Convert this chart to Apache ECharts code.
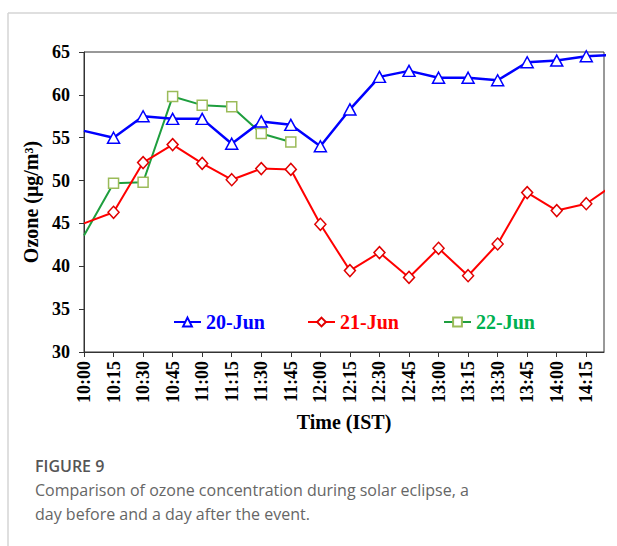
<!DOCTYPE html>
<html>
<head>
<meta charset="utf-8">
<script src="https://cdn.jsdelivr.net/npm/echarts@6/dist/echarts.min.js"></script>
<style>
html,body{margin:0;padding:0;background:#fff;}
#chart{width:617px;height:546px;}
</style>
</head>
<body>
<div id="chart"></div>
<script>
// Time categories (IST); the final one lies just past the visible axis end
const times = ['10:00','10:15','10:30','10:45','11:00','11:15','11:30','11:45','12:00','12:15','12:30','12:45','13:00','13:15','13:30','13:45','14:00','14:15','14:30'];
const tickLabels = ['10:00','10:15','10:30','10:45','11:00','11:15','11:30','11:45','12:00','12:15','12:30','12:45','13:00','13:15','13:30','13:45','14:00','14:15'];
const ozone20Jun = [55.8, 55.0, 57.5, 57.2, 57.2, 54.3, 56.9, 56.5, 54.0, 58.3, 62.1, 62.8, 62.0, 62.0, 61.7, 63.8, 64.0, 64.5, 64.7];
const ozone21Jun = [45.0, 46.3, 52.1, 54.2, 52.0, 50.1, 51.4, 51.3, 44.9, 39.5, 41.6, 38.7, 42.1, 38.9, 42.6, 48.6, 46.5, 47.3, 49.7];
const ozone22Jun = [43.6, 49.7, 49.8, 59.8, 58.8, 58.6, 55.5, 54.5];
const yTicks = [30, 35, 40, 45, 50, 55, 60, 65];
const seriesNames = ['20-Jun', '21-Jun', '22-Jun'];

function toMin(t) { const p = t.split(':'); return (+p[0] - 10) * 60 + (+p[1]); }
function fmt(m) { const h = 10 + Math.floor(m / 60); const mm = m % 60; return h + ':' + (mm < 10 ? '0' + mm : mm); }
function build(vals) {
  return vals.map((v, i) => i === 0 ? { value: [toMin(times[i]), v], symbol: 'none' } : [toMin(times[i]), v]);
}
const tickMins = tickLabels.map(toMin);
const serif = "'Liberation Serif','Times New Roman',serif";

const chart = echarts.init(document.getElementById('chart'), null, { renderer: 'svg' });
const legendBase = { orient: 'horizontal', top: 312, padding: 0, itemWidth: 27, itemHeight: 11, itemGap: 2 };
chart.setOption({
  animation: false,
  backgroundColor: '#fff',
  grid: { left: 84, right: 13, top: 52, bottom: 194, show: true, borderColor: '#333', borderWidth: 1, backgroundColor: 'transparent' },
  xAxis: {
    type: 'value', min: 0, max: 264,
    name: 'Time (IST)', nameLocation: 'middle', nameGap: 60,
    nameTextStyle: { fontFamily: serif, fontWeight: 'bold', fontSize: 20, color: '#000' },
    axisLine: { show: true, lineStyle: { color: '#333', width: 1 } },
    axisTick: { show: true, length: 5, lineStyle: { color: '#333' }, customValues: tickMins },
    axisLabel: { rotate: 90, fontFamily: serif, fontWeight: 'bold', fontSize: 18, color: '#000', margin: 9, customValues: tickMins, formatter: v => fmt(v) },
    splitLine: { show: false }
  },
  yAxis: {
    type: 'value', min: yTicks[0], max: yTicks[yTicks.length - 1], interval: 5,
    name: 'Ozone (μg/m³)', nameLocation: 'middle', nameGap: 35,
    nameTextStyle: { fontFamily: serif, fontWeight: 'bold', fontSize: 20, color: '#000' },
    axisLine: { show: true, lineStyle: { color: '#333', width: 1 } },
    axisTick: { show: true, length: 5, lineStyle: { color: '#333' } },
    axisLabel: { fontFamily: serif, fontWeight: 'bold', fontSize: 18, color: '#000', margin: 14 },
    splitLine: { show: false }
  },
  legend: [
    Object.assign({}, legendBase, { left: 173, data: [seriesNames[0]], textStyle: { fontFamily: serif, fontWeight: 'bold', fontSize: 20, color: '#0000ff' } }),
    Object.assign({}, legendBase, { left: 307, data: [seriesNames[1]], textStyle: { fontFamily: serif, fontWeight: 'bold', fontSize: 20, color: '#ff0000' } }),
    Object.assign({}, legendBase, { left: 443, data: [seriesNames[2]], textStyle: { fontFamily: serif, fontWeight: 'bold', fontSize: 20, color: '#00b050' } })
  ],
  series: [
    { name: seriesNames[2], type: 'line', data: build(ozone22Jun), symbol: 'rect', symbolSize: 10,
      lineStyle: { color: '#1e9e3e', width: 2 }, itemStyle: { color: '#fff', borderColor: '#9bbb59', borderWidth: 1.5 }, z: 2 },
    { name: seriesNames[1], type: 'line', data: build(ozone21Jun), symbol: 'diamond', symbolSize: [11, 12],
      lineStyle: { color: '#ff0000', width: 2 }, itemStyle: { color: '#fff', borderColor: '#e00000', borderWidth: 1.5 }, z: 3 },
    { name: seriesNames[0], type: 'line', data: build(ozone20Jun), symbol: 'triangle', symbolSize: [12, 11],
      lineStyle: { color: '#0000ff', width: 2.5 }, itemStyle: { color: '#fff', borderColor: '#0000ff', borderWidth: 1.5 }, z: 4 }
  ],
  graphic: [
    { type: 'line', shape: { x1: 8, y1: 13, x2: 617, y2: 13 }, style: { stroke: '#d4d4d4', lineWidth: 1.5 } },
    { type: 'line', shape: { x1: 8, y1: 13, x2: 8, y2: 546 }, style: { stroke: '#d4d4d4', lineWidth: 1.5 } },
    { type: 'text', left: 35, top: 458, style: { text: 'FIGURE 9', font: "600 16px 'Open Sans','Noto Sans',sans-serif", fill: '#555' } },
    { type: 'text', left: 35, top: 482, style: { text: 'Comparison of ozone concentration during solar eclipse, a', font: "16px 'Open Sans','Noto Sans',sans-serif", fill: '#666' } },
    { type: 'text', left: 35, top: 506, style: { text: 'day before and a day after the event.', font: "16px 'Open Sans','Noto Sans',sans-serif", fill: '#666' } }
  ]
});
</script>
</body>
</html>
